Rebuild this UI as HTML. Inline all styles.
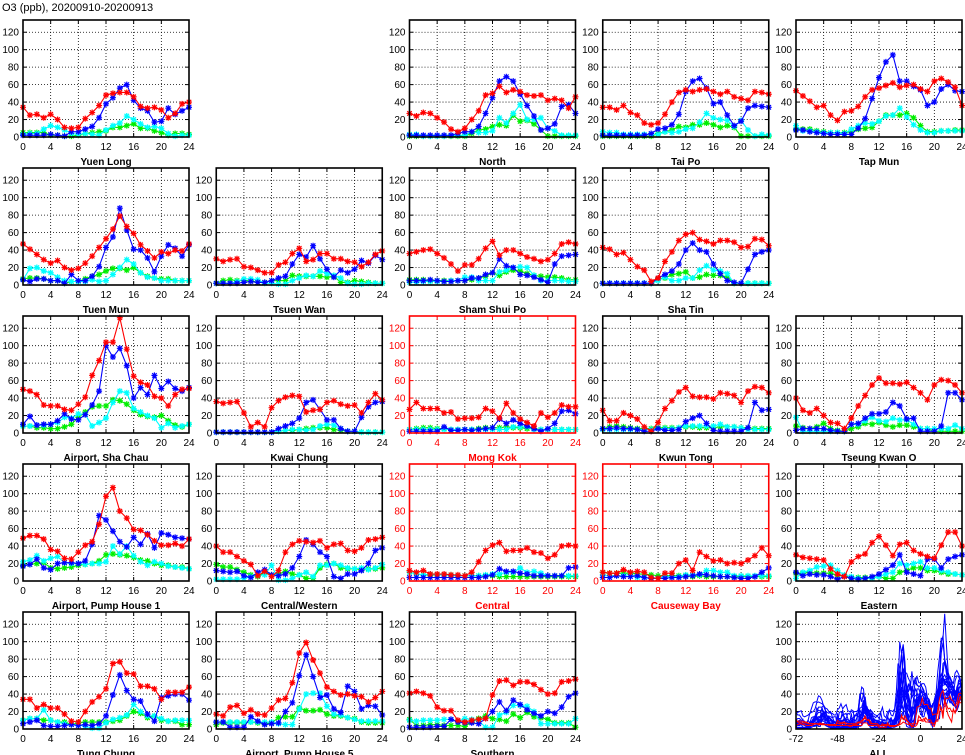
<!DOCTYPE html>
<html><head><meta charset="utf-8"><style>
html,body{margin:0;padding:0;background:#fff;}
svg{display:block;font-family:"Liberation Sans",sans-serif;}
</style></head><body>
<svg id="chart" width="965" height="755" viewBox="0 0 965 755" xmlns="http://www.w3.org/2000/svg">
<text x="2" y="11" font-size="11" fill="#000">O3 (ppb), 20200910-20200913</text>
</svg>
<script>
const hourTicks=[0,4,8,12,16,20,24];
const valueTicks=[0,20,40,60,80,100,120];
const allTicks=[-72,-48,-24,0,24];
const YL_R=[34,25,26,22,26,20,11,10,11,21,28,36,48,50,51,51,46,35,33,34,31,22,27,38,40];
const YL_B=[2,2,2,2,3,2,1,6,6,9,12,22,38,45,56,60,42,33,30,17,18,33,26,30,34];
const YL_C=[3,4,4,9,13,11,8,4,3,4,3,2,8,13,16,24,20,15,11,12,10,4,1,2,2];
const YL_G=[5,5,5,5,2,2,1,1,2,4,5,6,7,11,11,13,15,10,10,7,5,2,4,4,3];
const NO_R=[27,24,28,27,22,17,9,6,10,20,30,48,50,58,51,54,52,48,47,48,42,44,42,33,46];
const NO_B=[2,2,2,2,2,2,2,4,6,6,12,27,45,64,69,64,49,36,24,8,10,15,35,37,27];
const NO_C=[3,3,1,1,1,1,2,2,2,6,5,5,7,22,16,27,37,20,20,22,10,7,2,2,2];
const NO_G=[1,1,1,1,1,1,1,1,1,4,8,9,12,14,13,25,18,19,15,8,1,1,1,1,1];
const TP_R=[34,34,31,36,28,25,16,14,16,26,40,51,54,52,54,55,52,49,52,46,44,42,52,51,49];
const TP_B=[2,2,2,2,2,2,2,4,9,10,14,26,52,64,67,56,38,40,25,13,18,33,36,35,34];
const TP_C=[6,5,5,3,3,3,3,3,3,6,5,6,9,10,17,27,22,20,19,12,19,8,1,3,2];
const TP_G=[1,1,1,1,1,1,1,1,4,6,8,12,11,14,14,16,14,11,13,11,1,1,1,1,1];
const TM_R=[53,47,41,34,36,25,19,29,30,35,46,54,56,59,62,57,59,60,55,52,64,67,63,57,36];
const TM_B=[8,8,6,5,4,3,3,3,3,10,21,44,68,86,94,64,64,58,54,36,40,55,60,53,52];
const TM_C=[13,7,7,6,5,5,5,4,9,13,16,15,18,24,25,33,23,14,8,5,5,7,7,7,7];
const TM_G=[9,9,9,7,6,5,5,5,6,9,10,11,18,25,25,25,27,22,13,6,6,7,7,8,8];
const TU_R=[47,41,35,29,25,28,20,17,19,25,33,43,53,64,79,67,59,46,39,31,38,36,40,39,47];
const TU_B=[6,4,7,7,5,5,2,12,5,5,10,21,43,55,88,63,41,40,31,15,33,46,42,33,46];
const TU_C=[6,19,20,16,14,9,5,4,4,4,6,4,5,12,20,29,24,14,9,8,5,5,5,5,5];
const TU_G=[7,8,8,7,5,5,2,4,4,7,10,12,16,19,19,17,20,14,10,8,7,7,5,5,5];
const TW_R=[30,27,29,30,21,20,17,14,14,23,26,36,42,27,29,36,36,30,30,27,26,21,26,35,39];
const TW_B=[2,2,2,2,3,4,3,3,5,8,10,24,35,32,45,30,18,9,17,14,18,28,25,34,29];
const TW_C=[2,2,2,4,7,7,6,2,2,1,1,5,8,11,10,16,13,11,8,2,1,1,2,2,2];
const TW_G=[2,5,6,5,5,5,3,3,5,5,5,11,10,10,10,10,9,10,3,3,5,4,3,2,2];
const SS_R=[36,38,40,41,36,31,24,16,23,23,30,42,50,34,40,40,36,32,30,27,29,36,47,49,47];
const SS_B=[5,5,5,6,5,4,4,5,5,8,8,12,14,30,22,20,12,11,9,6,3,24,33,34,35];
const SS_C=[3,3,4,4,4,4,5,5,9,9,5,5,5,15,17,20,21,20,11,5,5,5,5,4,4];
const SS_G=[6,6,6,5,5,5,5,5,5,6,8,10,14,11,15,17,16,13,11,10,9,9,8,6,6];
const ST_R=[43,41,35,37,29,21,17,4,8,27,38,51,58,60,52,50,47,51,51,49,43,44,53,52,45];
const ST_B=[2,2,2,2,2,2,2,2,8,12,16,24,40,48,40,38,24,13,5,3,2,18,35,38,40];
const ST_C=[2,2,2,2,2,2,2,2,5,9,5,5,8,8,17,22,17,16,13,2,2,2,2,2,2];
const ST_G=[2,2,2,2,2,2,2,2,7,8,12,13,15,8,9,12,11,11,9,2,2,2,2,2,2];
const AS_R=[50,48,44,32,31,31,27,26,33,41,66,83,104,104,132,96,65,58,55,42,40,31,44,50,51];
const AS_B=[10,19,9,10,10,14,22,16,15,21,32,48,100,87,97,77,40,52,44,66,51,59,51,48,52];
const AS_C=[8,8,9,9,10,12,18,17,22,21,8,12,17,35,48,46,28,24,20,17,6,11,6,8,10];
const AS_G=[8,8,6,6,5,5,7,10,18,24,30,31,31,38,37,33,26,21,19,18,20,14,9,7,10];
const KC_R=[36,34,35,36,23,7,12,7,29,37,41,43,42,24,26,27,35,37,33,31,32,23,35,45,38];
const KC_B=[1,1,1,1,1,1,1,1,1,5,8,11,17,35,38,27,15,15,5,2,2,18,30,35,36];
const KC_C=[1,1,1,1,1,1,1,1,1,2,3,4,4,3,4,8,10,9,5,2,2,1,1,1,1];
const KC_G=[1,1,1,1,1,1,1,1,1,2,3,3,4,5,6,6,6,4,3,2,2,1,1,1,1];
const MK_R=[27,35,28,28,28,23,24,16,17,17,18,28,25,17,34,23,16,12,8,23,18,23,32,30,30];
const MK_B=[2,2,2,2,2,7,3,3,4,3,4,5,6,16,11,15,11,8,5,2,5,11,25,26,22];
const MK_C=[4,4,4,4,4,4,4,4,4,4,4,4,4,4,4,7,7,7,4,4,4,4,4,4,4];
const MK_G=[4,5,6,6,5,5,4,4,4,4,5,6,6,6,7,6,6,5,5,4,4,4,4,4,4];
const KT_R=[26,14,14,23,20,16,7,2,12,28,37,47,52,42,41,41,39,46,45,43,35,48,53,52,46];
const KT_B=[5,5,6,5,5,4,2,2,5,3,3,4,13,17,20,11,3,2,2,2,2,6,35,26,27];
const KT_C=[4,4,4,4,4,4,4,4,5,5,5,6,8,8,8,8,8,10,7,7,6,4,4,4,4];
const KT_G=[5,7,8,7,6,5,5,5,6,6,6,6,7,7,6,6,6,7,7,7,6,6,5,5,5];
const TK_R=[40,26,23,28,20,12,11,5,17,31,43,55,63,57,57,56,58,52,46,38,55,61,60,55,46];
const TK_B=[3,5,5,5,5,3,2,2,10,11,17,22,22,24,35,31,16,17,2,2,2,8,46,46,38];
const TK_C=[18,2,2,2,2,2,2,2,10,10,14,18,14,13,17,15,15,10,5,5,5,5,5,9,5];
const TK_G=[8,6,5,7,11,5,3,2,5,7,11,10,12,9,7,9,9,7,5,5,2,2,2,2,2];
const P1_R=[49,52,52,48,36,34,26,25,33,41,45,65,97,107,80,72,59,58,53,46,41,41,43,40,48];
const P1_B=[17,19,25,15,13,20,21,21,20,23,42,75,70,57,45,39,50,42,54,38,55,53,50,49,48];
const P1_C=[22,24,29,23,26,28,21,20,20,19,20,20,22,40,31,40,29,22,18,22,20,17,16,15,14];
const P1_G=[18,19,20,21,15,14,15,16,18,19,20,23,30,31,30,29,27,24,23,20,18,18,16,16,14];
const CW_R=[40,33,33,28,23,19,6,11,5,12,33,42,46,45,44,46,38,42,43,35,34,38,47,48,50];
const CW_B=[12,11,10,11,6,4,10,13,7,6,8,15,28,47,42,33,28,5,3,8,8,12,20,35,38];
const CW_C=[2,2,2,2,3,5,6,7,18,1,1,3,7,10,5,18,18,20,18,15,14,15,13,15,19];
const CW_G=[19,16,16,13,10,7,5,10,7,8,11,8,7,3,3,15,19,20,15,14,14,13,14,14,15];
const CE_R=[12,10,12,8,8,8,7,7,6,10,22,35,41,44,34,35,35,38,33,32,26,30,40,41,40];
const CE_B=[4,4,4,4,4,4,4,4,4,4,4,5,7,14,11,11,9,8,6,6,6,6,6,15,16];
const CE_C=[10,8,7,8,7,7,6,6,6,6,6,7,8,8,10,10,15,10,11,9,6,6,6,6,6];
const CE_G=[10,8,7,7,7,7,7,6,6,6,6,6,6,5,5,5,5,5,5,5,5,5,5,5,5];
const CB_R=[10,9,9,13,10,11,10,4,3,9,9,20,24,12,33,28,23,24,20,21,20,24,29,38,29];
const CB_B=[4,4,6,5,5,6,4,3,3,3,4,4,5,6,8,7,6,5,5,4,3,3,5,10,15];
const CB_C=[7,6,6,6,8,4,4,3,3,5,5,5,7,7,7,12,12,10,10,6,6,6,6,6,6];
const CB_G=[10,9,9,9,9,8,8,7,6,6,6,6,6,5,6,5,5,5,5,5,5,5,5,5,5];
const EA_R=[30,27,26,25,24,14,8,5,22,28,31,44,51,41,29,42,44,35,31,28,26,41,56,56,40];
const EA_B=[10,6,8,7,7,5,2,5,3,2,3,5,8,13,18,30,10,8,6,25,25,15,25,28,30];
const EA_C=[3,10,12,16,17,18,12,7,5,3,3,3,5,8,10,20,18,20,22,15,15,12,10,8,7];
const EA_G=[9,9,10,9,9,9,6,6,4,4,4,4,5,3,3,10,12,15,15,12,12,10,8,8,7];
const TC_R=[34,34,24,28,24,24,17,9,8,20,31,37,46,75,77,64,63,49,49,46,34,42,42,42,48];
const TC_B=[6,8,10,4,3,3,4,5,4,5,4,6,15,39,62,44,34,32,17,9,36,38,40,40,33];
const TC_C=[10,12,12,22,10,8,6,5,5,3,1,1,7,11,13,16,28,20,15,15,12,9,10,10,10];
const TC_G=[10,12,12,10,10,8,8,5,7,8,8,8,8,9,10,15,20,18,13,15,10,9,9,5,5];
const P5_R=[17,15,25,27,18,22,17,16,24,33,35,53,87,99,79,64,48,43,39,40,38,37,31,36,43];
const P5_B=[8,8,2,2,2,14,9,5,6,7,20,30,61,85,60,36,39,23,19,49,43,23,27,26,16];
const P5_C=[8,8,8,8,8,8,8,8,8,6,5,5,23,40,41,41,26,17,16,13,11,9,9,9,9];
const P5_G=[5,7,7,7,7,8,7,6,7,13,14,14,24,21,21,22,17,15,15,13,12,8,7,7,7];
const SO_R=[41,43,41,38,25,21,21,10,8,10,11,12,39,55,56,50,54,54,51,45,40,41,54,55,57];
const SO_B=[2,2,2,2,3,3,11,8,7,7,6,12,20,31,21,33,28,22,18,15,20,18,25,37,41];
const SO_C=[10,9,10,10,10,11,11,9,12,11,9,2,2,16,19,27,27,26,20,6,6,6,6,6,12];
const SO_G=[11,4,4,5,5,4,4,4,3,8,12,15,12,11,9,17,13,19,14,13,11,7,7,7,2];

const stationNames=["Yuen Long","North","Tai Po","Tap Mun","Tuen Mun","Tsuen Wan","Sham Shui Po","Sha Tin","Airport, Sha Chau","Kwai Chung","Mong Kok","Kwun Tong","Tseung Kwan O","Airport, Pump House 1","Central/Western","Central","Causeway Bay","Eastern","Tung Chung","Airport, Pump House 5","Southern"];
const stationRed=[YL_R,NO_R,TP_R,TM_R,TU_R,TW_R,SS_R,ST_R,AS_R,KC_R,MK_R,KT_R,TK_R,P1_R,CW_R,CE_R,CB_R,EA_R,TC_R,P5_R,SO_R];
const stationBlue=[YL_B,NO_B,TP_B,TM_B,TU_B,TW_B,SS_B,ST_B,AS_B,KC_B,MK_B,KT_B,TK_B,P1_B,CW_B,CE_B,CB_B,EA_B,TC_B,P5_B,SO_B];
const stationCyan=[YL_C,NO_C,TP_C,TM_C,TU_C,TW_C,SS_C,ST_C,AS_C,KC_C,MK_C,KT_C,TK_C,P1_C,CW_C,CE_C,CB_C,EA_C,TC_C,P5_C,SO_C];
const stationGreen=[YL_G,NO_G,TP_G,TM_G,TU_G,TW_G,SS_G,ST_G,AS_G,KC_G,MK_G,KT_G,TK_G,P1_G,CW_G,CE_G,CB_G,EA_G,TC_G,P5_G,SO_G];
const roadside=[false,false,false,false,false,false,false,false,false,false,true,false,false,false,false,true,true,false,false,false,false];
const panelRow=[0,0,0,0,1,1,1,1,2,2,2,2,2,3,3,3,3,3,4,4,4];
const panelCol=[0,2,3,4,0,1,2,3,0,1,2,3,4,0,1,2,3,4,0,1,2];

const NS="http://www.w3.org/2000/svg";
const svg=document.getElementById('chart');
const PW=166,PH=117,YMAX=134;
function mk(tag,attrs,parent){const e=document.createElementNS(NS,tag);for(const k in attrs)e.setAttribute(k,attrs[k]);(parent||svg).appendChild(e);return e;}
function px(col){return 23+col*193.25;}
function py(row){return 20+row*148;}

function drawFrame(g,x0,y0,xmin,xmax,xt,col,title){
  const sx=v=>x0+(v-xmin)/(xmax-xmin)*PW;
  const sy=v=>y0+PH-v/YMAX*PH;
  xt.forEach(t=>{
    if(t>xmin&&t<xmax){const l=mk('line',{x1:sx(t),x2:sx(t),y1:y0,y2:y0+PH,stroke:'#000','stroke-width':0.8,'stroke-dasharray':'1,2'},g);
    
    }
    mk('line',{x1:sx(t),x2:sx(t),y1:y0+PH,y2:y0+PH-4,stroke:col,'stroke-width':1},g);
    mk('line',{x1:sx(t),x2:sx(t),y1:y0,y2:y0+4,stroke:col,'stroke-width':1},g);
    const tx=mk('text',{x:sx(t),y:y0+PH+13,'font-size':10,'text-anchor':'middle',fill:col},g);
    tx.textContent=t;
    
    
  });
  valueTicks.forEach(t=>{
    if(t>0){const l=mk('line',{x1:x0,x2:x0+PW,y1:sy(t),y2:sy(t),stroke:'#000','stroke-width':0.8,'stroke-dasharray':'1,2'},g);
    
    }
    mk('line',{x1:x0,x2:x0+4,y1:sy(t),y2:sy(t),stroke:col,'stroke-width':1},g);
    mk('line',{x1:x0+PW,x2:x0+PW-4,y1:sy(t),y2:sy(t),stroke:col,'stroke-width':1},g);
    const ty=mk('text',{x:x0-4,y:sy(t)+3.5,'font-size':10,'text-anchor':'end',fill:col},g);
    ty.textContent=t;
    
    
  });
  const tt=mk('text',{x:x0+PW/2,y:y0+PH+28,'font-size':10,'font-weight':'bold','text-anchor':'middle',fill:col},g);
  tt.textContent=title;
  
  
  return {sx,sy};
}
function drawBorder(g,x0,y0,col){
  const b=mk('rect',{x:x0,y:y0,width:PW,height:PH,fill:'none',stroke:col,'stroke-width':1.6},g);
  
  
}
function drawSeries(g,vals,sx,sy,color,name,xoff){
  const pts=vals.map((v,i)=>[sx(i+xoff),sy(v)]);
  const pl=mk('polyline',{points:pts.map(p=>p.join(',')).join(' '),fill:'none',stroke:color,'stroke-width':1.1},g);
  
  
  pts.forEach(([x,y])=>{
    const r=3;
    const m=mk('path',{d:`M${x-r},${y}H${x+r}M${x},${y-r}V${y+r}M${x-r*0.75},${y-r*0.75}L${x+r*0.75},${y+r*0.75}M${x-r*0.75},${y+r*0.75}L${x+r*0.75},${y-r*0.75}`,stroke:color,'stroke-width':1.2,fill:'none'},g);
    
    
  });
}

stationNames.forEach((nm,i)=>{
  const x0=px(panelCol[i]),y0=py(panelRow[i]);
  const col=roadside[i]?'#ff0000':'#000';
  const g=mk('g',{});
  
  
  const {sx,sy}=drawFrame(g,x0,y0,0,24,hourTicks,col,nm);
  drawSeries(g,stationGreen[i],sx,sy,'#00ee00','day1-series',0);
  drawSeries(g,stationCyan[i],sx,sy,'#00ffff','day2-series',0);
  drawSeries(g,stationBlue[i],sx,sy,'#0000ff','day3-series',0);
  drawSeries(g,stationRed[i],sx,sy,'#ff0000','day4-series',0);
  drawBorder(g,x0,y0,col);
});

// ALL panel: concatenated 4-day series per station
(function(){
  const x0=px(4),y0=py(4);
  const g=mk('g',{});
  
  
  const {sx,sy}=drawFrame(g,x0,y0,-72,24,allTicks,'#000','ALL');
  [-60,-36,-12,12].forEach(t=>{
    mk('line',{x1:sx(t),x2:sx(t),y1:y0+PH,y2:y0+PH-3,stroke:'#000','stroke-width':1},g);
  });
  const clip=mk('clipPath',{id:'allclip'},g);
  mk('rect',{x:x0,y:y0,width:PW,height:PH},clip);
  const lg=mk('g',{'clip-path':'url(#allclip)'},g);
  const order=stationNames.map((n,i)=>i).sort((a,b)=>roadside[a]-roadside[b]);
  order.forEach(i=>{
    const all=[].concat(stationGreen[i].slice(0,24),stationCyan[i].slice(0,24),stationBlue[i].slice(0,24),stationRed[i]);
    const pts=all.map((v,k)=>sx(k-72)+','+sy(v)).join(' ');
    const pl=mk('polyline',{points:pts,fill:'none',stroke:roadside[i]?'#ff0000':'#0000ff','stroke-width':1},lg);
    
    
  });
  drawBorder(g,x0,y0,'#000');
})();
</script>
</body></html>
